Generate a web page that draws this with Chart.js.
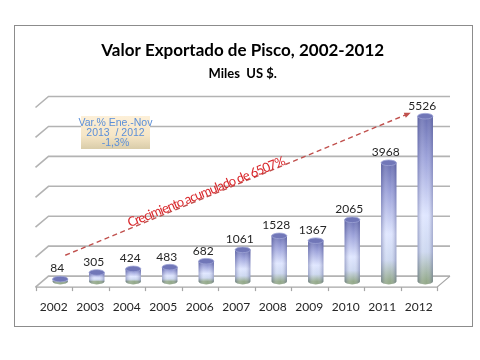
<!DOCTYPE html>
<html>
<head>
<meta charset="utf-8">
<script src="https://cdn.jsdelivr.net/npm/chart.js@4/dist/chart.umd.min.js"></script>
<style>
  body { margin: 0; background: #fff; }
  #wrap { width: 480px; height: 360px; }
</style>
</head>
<body>
<div id="wrap"><canvas id="chart" width="480" height="360"></canvas></div>
<script>
const years = ['2002', '2003', '2004', '2005', '2006', '2007', '2008', '2009', '2010', '2011', '2012'];
const exportValues = [84, 305, 424, 483, 682, 1061, 1528, 1367, 2065, 3968, 5526];
const gridValues = [0, 1000, 2000, 3000, 4000, 5000, 6000];
const noteLines = ['Var.% Ene.-Nov', '2013  / 2012', '-1,3%'];
const growthText = 'Crecimiento acumulado de 6507%';

// 3D depth: back wall is shifted right/up, front edge left/down
const DX = 6.5;
const DY = 5.5;
const FONT = 'Lato, "Open Sans", sans-serif';

function barGradient(context) {
  const chart = context.chart;
  const yScale = chart.scales.y;
  if (!chart.chartArea || !yScale) return '#b8c0f0';
  const top = yScale.getPixelForValue(context.raw);
  const base = yScale.getPixelForValue(0);
  const g = chart.ctx.createLinearGradient(0, top, 0, base);
  g.addColorStop(0, '#6a70b2');
  g.addColorStop(0.25, '#9ca2da');
  g.addColorStop(0.6, '#dfe6ff');
  g.addColorStop(0.82, '#cdd8f0');
  g.addColorStop(1, '#93a98a');
  return g;
}

const decor = {
  id: 'decor',
  beforeDraw(chart) {
    const ctx = chart.ctx;
    ctx.save();
    ctx.strokeStyle = '#8c8c8c';
    ctx.lineWidth = 1;
    ctx.strokeRect(14.5, 25.5, 458, 301);
    ctx.restore();
  },
  beforeDatasetsDraw(chart) {
    const ctx = chart.ctx;
    const { left, right } = chart.chartArea;
    const y = chart.scales.y;
    ctx.save();
    ctx.strokeStyle = '#b3b3b3';
    ctx.lineWidth = 1.6;
    gridValues.forEach((v) => {
      const py = y.getPixelForValue(v);
      ctx.beginPath();
      ctx.moveTo(left - DX, py + DY);
      ctx.lineTo(left + DX, py - DY);
      ctx.lineTo(right + DX, py - DY);
      ctx.stroke();
    });
    // floor front edge and right side
    const p0 = y.getPixelForValue(0);
    ctx.strokeStyle = '#a6a6a6';
    ctx.lineWidth = 1.2;
    ctx.beginPath();
    ctx.moveTo(left - DX, p0 + DY);
    ctx.lineTo(right - DX, p0 + DY);
    ctx.lineTo(right + DX, p0 - DY);
    ctx.stroke();
    const w = (right - left) / years.length;
    for (let i = 0; i <= years.length; i++) {
      const tx = Math.round(left - DX + i * w) + 0.5;
      ctx.beginPath();
      ctx.moveTo(tx, p0 + DY);
      ctx.lineTo(tx, p0 + DY + 4);
      ctx.stroke();
    }
    // bottom ellipses of cylinders
    chart.getDatasetMeta(0).data.forEach((bar) => {
      ctx.fillStyle = '#94a98b';
      ctx.beginPath();
      ctx.ellipse(bar.x, bar.base, bar.width / 2, 2.8, 0, 0, Math.PI * 2);
      ctx.fill();
    });
    ctx.restore();
  },
  afterDatasetsDraw(chart) {
    const ctx = chart.ctx;
    const meta = chart.getDatasetMeta(0);
    ctx.save();
    meta.data.forEach((bar, i) => {
      const hw = bar.width / 2;
      // side shading
      const side = ctx.createLinearGradient(bar.x - hw, 0, bar.x + hw, 0);
      side.addColorStop(0, 'rgba(50,55,120,0.35)');
      side.addColorStop(0.35, 'rgba(255,255,255,0.1)');
      side.addColorStop(0.6, 'rgba(255,255,255,0)');
      side.addColorStop(1, 'rgba(50,55,120,0.35)');
      ctx.fillStyle = side;
      ctx.fillRect(bar.x - hw, bar.y, bar.width, bar.base - bar.y);
      ctx.beginPath();
      ctx.ellipse(bar.x, bar.base, hw, 2.8, 0, 0, Math.PI);
      ctx.fill();
      // top cap
      ctx.fillStyle = '#7177b8';
      ctx.strokeStyle = '#9da3d6';
      ctx.lineWidth = 0.8;
      ctx.beginPath();
      ctx.ellipse(bar.x, bar.y, hw, 2.8, 0, 0, Math.PI * 2);
      ctx.fill();
      ctx.stroke();
      // value label
      ctx.fillStyle = '#262626';
      ctx.font = '12px ' + FONT;
      ctx.textAlign = 'center';
      ctx.textBaseline = 'middle';
      ctx.fillText(String(exportValues[i]), bar.x - 3, bar.y - 10.5);
    });

    // growth arrow
    const x = chart.scales.x;
    const y = chart.scales.y;
    const x1 = x.getPixelForValue(0) + 5;
    const y1 = y.getPixelForValue(880);
    const x2 = x.getPixelForValue(10) - 14.5;
    const y2 = y.getPixelForValue(5640);
    ctx.strokeStyle = '#c0504d';
    ctx.fillStyle = '#c0504d';
    ctx.lineWidth = 1.4;
    ctx.setLineDash([5, 3.5]);
    ctx.beginPath();
    ctx.moveTo(x1, y1);
    ctx.lineTo(x2, y2);
    ctx.stroke();
    ctx.setLineDash([]);
    const ang = Math.atan2(y2 - y1, x2 - x1);
    ctx.beginPath();
    ctx.moveTo(x2, y2);
    ctx.lineTo(x2 - 7 * Math.cos(ang - 0.4), y2 - 7 * Math.sin(ang - 0.4));
    ctx.lineTo(x2 - 7 * Math.cos(ang + 0.4), y2 - 7 * Math.sin(ang + 0.4));
    ctx.closePath();
    ctx.fill();

    // growth label
    ctx.save();
    ctx.translate(206, 192);
    ctx.rotate(-22 * Math.PI / 180);
    ctx.fillStyle = '#d9262a';
    ctx.font = '13px ' + FONT;
    ctx.textAlign = 'center';
    ctx.textBaseline = 'middle';
    const natural = ctx.measureText(growthText).width;
    ctx.letterSpacing = ((168 - natural) / growthText.length).toFixed(2) + 'px';
    ctx.fillText(growthText, 0, 0);
    ctx.restore();

    // note box
    const bx = 81, by = 116, bw = 69, bh = 33;
    const g = ctx.createLinearGradient(0, by, 0, by + bh);
    g.addColorStop(0, '#fdf0d8');
    g.addColorStop(0.6, '#f6e6c6');
    g.addColorStop(1, '#d9cca9');
    ctx.fillStyle = g;
    ctx.fillRect(bx, by, bw, bh);
    ctx.fillStyle = '#5b8fd8';
    ctx.font = '10.5px "Liberation Sans", Arial, sans-serif';
    ctx.textAlign = 'center';
    ctx.textBaseline = 'middle';
    noteLines.forEach((line, i) => {
      ctx.fillText(line, bx + bw / 2, by + 7 + i * 10);
    });
    ctx.restore();
  }
};

new Chart(document.getElementById('chart'), {
  type: 'bar',
  data: {
    labels: years,
    datasets: [
      {
        data: exportValues,
        backgroundColor: barGradient,
        borderWidth: 0,
        categoryPercentage: 1,
        barPercentage: 0.42,
      },
    ],
  },
  options: {
    responsive: false,
    animation: false,
    layout: { padding: { left: 42, right: 36.5, top: 26, bottom: 27 } },
    plugins: {
      legend: { display: false },
      tooltip: { enabled: false },
      title: {
        display: true,
        text: 'Valor Exportado de Pisco, 2002-2012',
        color: '#000',
        font: { family: FONT, size: 17, weight: 'bold' },
        padding: { top: 14, bottom: 2 },
      },
      subtitle: {
        display: true,
        text: 'Miles  US $.',
        color: '#000',
        font: { family: FONT, size: 13, weight: 'bold' },
        padding: { top: 4, bottom: 20 },
      },
    },
    scales: {
      x: {
        grid: { display: false, drawTicks: false },
        border: { display: false },
        ticks: {
          color: '#262626',
          font: { family: FONT, size: 12 },
          padding: 18.5,
          labelOffset: -DX,
          maxRotation: 0,
          autoSkip: false,
        },
      },
      y: {
        display: false,
        min: 0,
        max: 6000,
      },
    },
  },
  plugins: [decor],
});
</script>
</body>
</html>
